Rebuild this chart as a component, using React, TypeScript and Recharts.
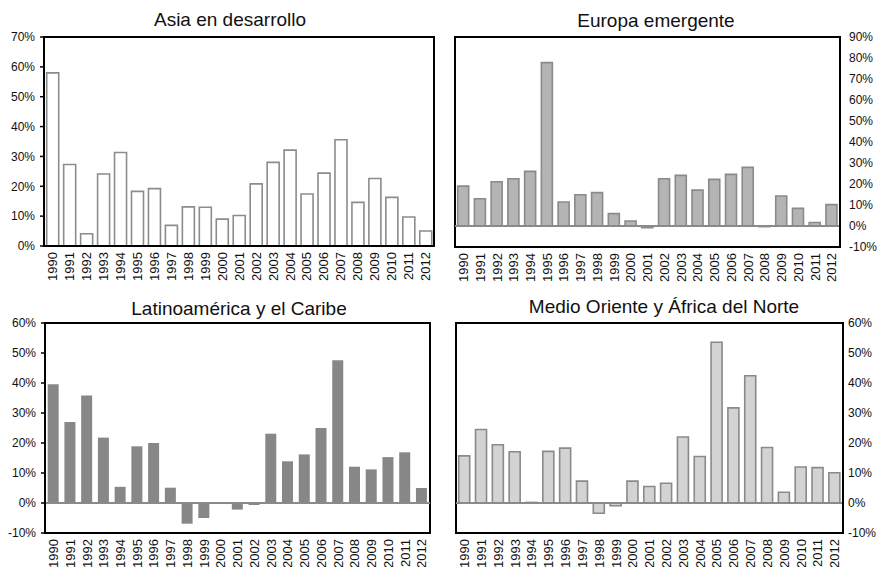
import { BarChart, Bar, XAxis, YAxis, ReferenceLine, ReferenceArea } from "recharts";

const years = [
  "1990", "1991", "1992", "1993", "1994", "1995", "1996", "1997", "1998", "1999", "2000", "2001",
  "2002", "2003", "2004", "2005", "2006", "2007", "2008", "2009", "2010", "2011", "2012",
];

// crecimiento anual, %
const asiaValues = [58.0, 27.3, 4.1, 24.1, 31.3, 18.3, 19.2, 6.9, 13.1, 13.0, 9.0, 10.2, 20.8, 28.0, 32.1, 17.4, 24.4, 35.6, 14.6, 22.6, 16.3, 9.7, 5.0];
const europaValues = [19.0, 13.0, 21.1, 22.5, 26.0, 77.8, 11.4, 14.9, 15.9, 5.9, 2.4, -0.8, 22.5, 24.1, 17.1, 22.2, 24.6, 27.9, -0.3, 14.3, 8.4, 1.7, 10.2];
const latamValues = [39.6, 27.0, 35.8, 21.8, 5.4, 18.9, 20.0, 5.1, -6.9, -5.0, -0.3, -2.2, -0.7, 23.1, 13.9, 16.2, 25.0, 47.6, 12.1, 11.2, 15.3, 16.9, 5.0];
const medioValues = [15.7, 24.5, 19.4, 17.1, 0.2, 17.2, 18.3, 7.3, -3.4, -0.9, 7.3, 5.5, 6.6, 22.0, 15.5, 53.6, 31.7, 42.4, 18.5, 3.6, 12.0, 11.8, 10.1];

const asiaTicks = [0, 10, 20, 30, 40, 50, 60, 70];
const europaTicks = [-10, 0, 10, 20, 30, 40, 50, 60, 70, 80, 90];
const sixtyTicks = [-10, 0, 10, 20, 30, 40, 50, 60];

const FONT = "'Liberation Sans', Arial, sans-serif";

type TickProps = { x?: number; y?: number; payload?: { value?: string | number } };

function YearTick({ x = 0, y = 0, payload }: TickProps) {
  return (
    <text
      x={x}
      y={y}
      dy="0.36em"
      transform={`rotate(-90, ${x}, ${y})`}
      textAnchor="end"
      fill="#111"
      fontSize={13}
      fontFamily={FONT}
    >
      {payload?.value}
    </text>
  );
}

type PanelProps = {
  title: string;
  values: number[];
  ticks: number[];
  side: "left" | "right";
  fill: string;
  stroke: string;
  left: number;
  top: number;
  width: number;
  height: number;
  margin: { top: number; right: number; bottom: number; left: number };
  axisWidth: number;
  xAxisHeight: number;
  labelGap: number;
  titleX: number;
  titleY: number;
};

function Panel(p: PanelProps) {
  const data = years.map((year, i) => ({ year, v: p.values[i] }));
  const box = { stroke: "#000", strokeWidth: 2 };
  const lo = p.ticks[0];
  const hi = p.ticks[p.ticks.length - 1];
  return (
    <>
      <div
        style={{
          position: "absolute",
          left: p.titleX - 200,
          top: p.titleY,
          width: 400,
          textAlign: "center",
          fontSize: 19,
          fontFamily: FONT,
          color: "#111",
          lineHeight: "22px",
        }}
      >
        {p.title}
      </div>
      <div style={{ position: "absolute", left: p.left, top: p.top }}>
        <BarChart width={p.width} height={p.height} data={data} margin={p.margin} barCategoryGap="16%">
          <XAxis
            dataKey="year"
            interval={0}
            height={p.xAxisHeight}
            axisLine={box}
            tickLine={false}
            tickSize={0}
            tickMargin={6}
            tick={YearTick}
          />
          <YAxis
            orientation={p.side}
            domain={[lo, hi]}
            ticks={p.ticks}
            interval={0}
            width={p.axisWidth}
            tickFormatter={(v: number) => `${v}%`}
            axisLine={box}
            tickLine={p.side === "left" ? { stroke: "#000", strokeWidth: 1.5 } : false}
            tickSize={p.side === "left" ? 4 : 0}
            tickMargin={p.labelGap}
            tick={{ fill: "#111", fontSize: 12, fontFamily: FONT }}
          />
          <Bar dataKey="v" fill={p.fill} stroke={p.stroke} strokeWidth={1.6} isAnimationActive={false} />
          {lo < 0 && <ReferenceLine y={0} stroke="#8a8a8a" strokeWidth={2} />}
          <ReferenceArea y1={lo} y2={hi} fill="none" fillOpacity={0} stroke="#000" strokeWidth={2} ifOverflow="visible" />
        </BarChart>
      </div>
    </>
  );
}

export default function App() {
  return (
    <div
      style={{
        position: "absolute",
        left: 0,
        top: 0,
        width: 881,
        height: 567,
        overflow: "hidden",
        background: "#fff",
        fontFamily: FONT,
      }}
    >
      <Panel
        title="Asia en desarrollo"
        values={asiaValues}
        ticks={asiaTicks}
        side="left"
        fill="#ffffff"
        stroke="#8c8c8c"
        left={0}
        top={0}
        width={440}
        height={290}
        margin={{ top: 37, right: 6, bottom: 0, left: 0 }}
        axisWidth={44}
        xAxisHeight={44}
        labelGap={5}
        titleX={230}
        titleY={9}
      />
      <Panel
        title="Europa emergente"
        values={europaValues}
        ticks={europaTicks}
        side="right"
        fill="#b4b4b4"
        stroke="#8a8a8a"
        left={440}
        top={0}
        width={441}
        height={290}
        margin={{ top: 37, right: 0, bottom: 0, left: 15 }}
        axisWidth={41}
        xAxisHeight={43}
        labelGap={9}
        titleX={656}
        titleY={10}
      />
      <Panel
        title="Latinoamérica y el Caribe"
        values={latamValues}
        ticks={sixtyTicks}
        side="left"
        fill="#878787"
        stroke="none"
        left={0}
        top={290}
        width={440}
        height={300}
        margin={{ top: 33, right: 10, bottom: 0, left: 0 }}
        axisWidth={45}
        xAxisHeight={57}
        labelGap={5}
        titleX={239}
        titleY={298}
      />
      <Panel
        title="Medio Oriente y África del Norte"
        values={medioValues}
        ticks={sixtyTicks}
        side="right"
        fill="#d3d3d3"
        stroke="#8a8a8a"
        left={440}
        top={290}
        width={441}
        height={300}
        margin={{ top: 33, right: 0, bottom: 0, left: 16 }}
        axisWidth={38}
        xAxisHeight={57}
        labelGap={5}
        titleX={664}
        titleY={296}
      />
    </div>
  );
}
